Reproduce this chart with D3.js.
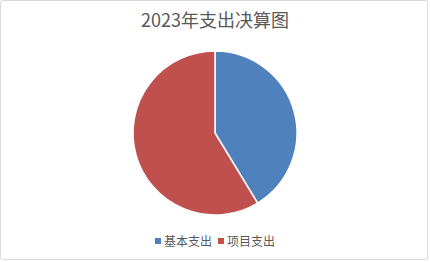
<!DOCTYPE html>
<html>
<head>
<meta charset="utf-8">
<script src="https://cdn.jsdelivr.net/npm/d3@7"></script>
<style>
  html, body { margin: 0; padding: 0; background: #fff; }
  svg { display: block; }
</style>
</head>
<body>
<svg id="chart" width="430" height="262"></svg>
<script>
// 2023 expenditure breakdown
const title = "2023年支出决算图";
const categories = ["基本支出", "项目支出"];
const values = [41.3, 58.7];
const colors = ["#4F81BD", "#C0504D"];

const svg = d3.select("#chart");
const W = 430, H = 262;
const font = "'Noto Sans CJK SC', 'Microsoft YaHei', sans-serif";

// chart frame
svg.append("rect")
  .attr("x", 0.5).attr("y", 0.5)
  .attr("width", W - 3).attr("height", H - 3)
  .attr("rx", 2)
  .attr("fill", "#fff")
  .attr("stroke", "#d9d9d9");

svg.append("text")
  .attr("x", 215).attr("y", 27)
  .attr("text-anchor", "middle")
  .attr("font-family", font)
  .attr("font-size", 18)
  .attr("fill", "#595959")
  .text(title);

const cx = 215, cy = 133, r = 82;
const pie = d3.pie().sort(null).value(d => d)(values);
const arc = d3.arc().innerRadius(0).outerRadius(r);

svg.append("g")
  .attr("transform", `translate(${cx},${cy})`)
  .selectAll("path")
  .data(pie)
  .join("path")
  .attr("d", arc)
  .attr("fill", (d, i) => colors[i])
  .attr("stroke", "#fff")
  .attr("stroke-width", 1.5)
  .attr("stroke-linejoin", "round");

// legend
const legendX = [155, 218];
const legend = svg.append("g");
categories.forEach((c, i) => {
  legend.append("rect")
    .attr("x", legendX[i]).attr("y", 238)
    .attr("width", 6).attr("height", 6)
    .attr("fill", colors[i]);
  legend.append("text")
    .attr("x", legendX[i] + 9).attr("y", 246)
    .attr("font-family", font)
    .attr("font-size", 12)
    .attr("fill", "#595959")
    .text(c);
});
</script>
</body>
</html>
